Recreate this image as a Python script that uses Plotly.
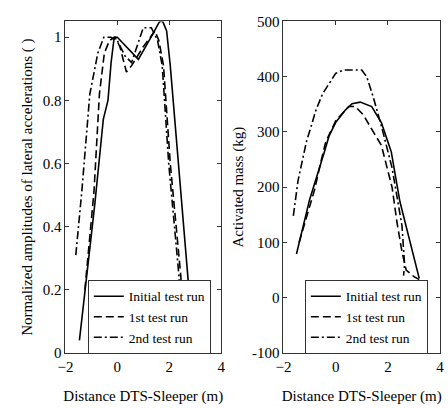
import plotly.graph_objects as go

# ---------------- data (left: normalized amplitudes) ----------------
l_init_x = [-1.46, -0.87, -0.54, -0.36, -0.24, -0.12, 0.0, 0.29, 0.81, 1.3, 1.63, 1.75, 1.9, 2.04, 2.35, 2.73, 3.1]
l_init_y = [0.04, 0.47, 0.74, 0.80, 0.92, 1.0, 1.0, 0.975, 0.93, 1.0, 1.05, 1.05, 1.02, 0.91, 0.6, 0.23, 0.0]

l_first_x = [-1.25, -0.9, -0.69, -0.5, -0.3, -0.09, 0.1, 0.35, 0.55, 1.0, 1.45, 1.6, 1.78, 2.04, 2.45, 2.5]
l_first_y = [0.20, 0.51, 0.82, 0.95, 0.99, 1.0, 0.97, 0.89, 0.91, 0.97, 1.02, 0.99, 0.91, 0.6, 0.24, 0.0]

l_second_x = [-1.6, -1.37, -1.06, -0.75, -0.52, -0.25, 0.0, 0.3, 0.55, 1.0, 1.31, 1.55, 1.73, 1.98, 2.38, 2.42]
l_second_y = [0.31, 0.51, 0.82, 0.95, 1.0, 1.0, 0.99, 0.94, 0.92, 1.03, 1.03, 0.99, 0.91, 0.6, 0.24, 0.0]

# ---------------- data (right: activated mass) ----------------
r_init_x = [-1.5, -1.0, -0.43, -0.25, 0.0, 0.38, 0.63, 0.94, 1.38, 1.75, 2.0, 2.13, 2.46, 2.79, 3.2]
r_init_y = [79, 177, 264, 293, 317, 340, 351, 354, 346, 317, 282, 264, 174, 112, 35]

r_first_x = [-1.4, -0.81, -0.56, -0.38, 0.0, 0.5, 0.75, 1.06, 1.38, 1.75, 2.16, 2.35, 2.54, 2.7, 3.0, 3.2]
r_first_y = [100, 195, 247, 282, 320, 346, 346, 331, 305, 276, 200, 136, 83, 50, 38, 33]

r_second_x = [-1.62, -1.44, -1.12, -0.75, -0.5, 0.0, 0.31, 1.0, 1.19, 1.44, 1.75, 2.16, 2.54, 2.64, 2.6]
r_second_y = [148, 212, 282, 340, 369, 406, 412, 412, 400, 363, 311, 235, 130, 60, 40]

names = ["Initial test run", "1st test run", "2nd test run"]
x_ticks = [-2, 0, 2, 4]
x_ticktext = ["\u22122", "0", "2", "4"]
l_yticks = [0, 0.2, 0.4, 0.6, 0.8, 1]
l_yticktext = ["0", "0.2", "0.4", "0.6", "0.8", "1"]
r_yticks = [-100, 0, 100, 200, 300, 400, 500]
r_yticktext = ["-100", "0", "100", "200", "300", "400", "500"]

FONT = "Liberation Serif"
W, H = 448, 408
dashes = ["solid", "8px,4px", "8px,3px,2px,3px"]

fig = go.Figure()
left = [(l_init_x, l_init_y), (l_first_x, l_first_y), (l_second_x, l_second_y)]
right = [(r_init_x, r_init_y), (r_first_x, r_first_y), (r_second_x, r_second_y)]
for i, (x, y) in enumerate(left):
    fig.add_trace(go.Scatter(x=x, y=y, mode="lines", name=names[i],
                             line=dict(color="black", width=1.6, dash=dashes[i]),
                             xaxis="x", yaxis="y", legend="legend"))
for i, (x, y) in enumerate(right):
    fig.add_trace(go.Scatter(x=x, y=y, mode="lines", name=names[i],
                             line=dict(color="black", width=1.6, dash=dashes[i]),
                             xaxis="x2", yaxis="y2", legend="legend2"))

axcommon = dict(showline=True, linecolor="#333", linewidth=1, mirror="ticks",
                ticks="inside", ticklen=4, tickcolor="#333", showgrid=False,
                zeroline=False, tickfont=dict(family=FONT, size=15, color="black"))
ydom = [1 - 359 / H, 1 - 14 / H]

legcommon = dict(xanchor="left", yanchor="top", bordercolor="#333", borderwidth=1,
                 bgcolor="white", font=dict(family=FONT, size=13.5), tracegroupgap=0)

fig.update_layout(
    width=W, height=H, margin=dict(l=0, r=0, t=0, b=0),
    paper_bgcolor="white", plot_bgcolor="white",
    font=dict(family=FONT, size=15, color="black"),
    xaxis=dict(domain=[59 / W, 219 / W], range=[-2, 4], tickvals=x_ticks, ticktext=x_ticktext,
               title=dict(text="Distance DTS-Sleeper (m)", standoff=16, font=dict(family=FONT, size=15)),
               anchor="y", **axcommon),
    yaxis=dict(domain=ydom, range=[0, 1.05], tickvals=l_yticks, ticktext=l_yticktext,
               title=dict(text="Normalized amplitudes of lateral accelerations ( )", standoff=6,
                          font=dict(family=FONT, size=15)),
               anchor="x", **axcommon),
    xaxis2=dict(domain=[283 / W, 444 / W], range=[-2, 4], tickvals=x_ticks, ticktext=x_ticktext,
                title=dict(text="Distance DTS-Sleeper (m)", standoff=16, font=dict(family=FONT, size=15)),
                anchor="y2", **axcommon),
    yaxis2=dict(domain=ydom, range=[-100, 500], tickvals=r_yticks, ticktext=r_yticktext,
                title=dict(text="Activated mass (kg)", standoff=4, font=dict(family=FONT, size=15)),
                anchor="x2", **axcommon),
    legend=dict(x=82 / W, y=1 - 283 / H, **legcommon),
    legend2=dict(x=305 / W, y=1 - 283 / H, **legcommon),
    showlegend=True,
)

fig.write_html("out.html")
